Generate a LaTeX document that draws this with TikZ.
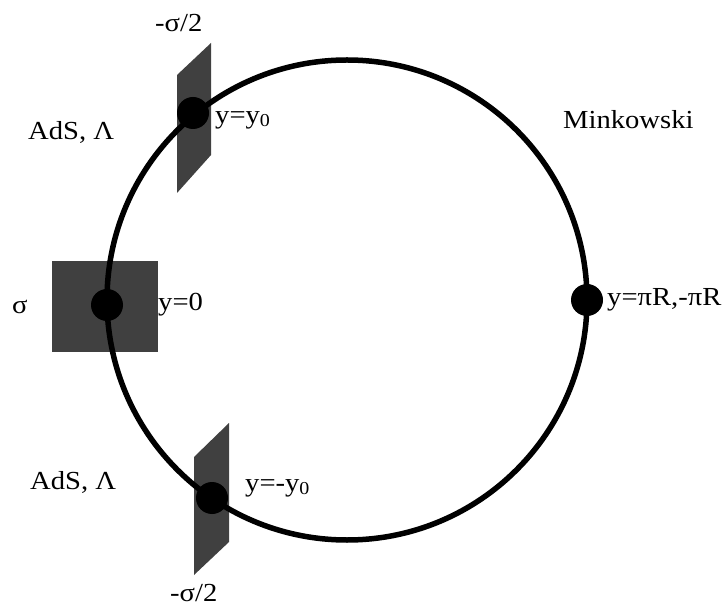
\documentclass[tikz,border=0pt]{standalone}
\usepackage{fontspec}
\setmainfont{Liberation Serif}[FakeStretch=1.1]
\usetikzlibrary{positioning}
\definecolor{braneblock}{RGB}{64,64,64}
\tikzset{
  bulk/.style={line width=5.5pt, black},
  fixpt/.style={circle, fill=black, inner sep=0pt, minimum size=32pt},
  lbl/.style={font=\fontsize{26}{30}\selectfont, inner sep=0pt, anchor=west},
}
\begin{document}
\begin{tikzpicture}[x=1pt,y=-1pt]
	\useasboundingbox (0,0) rectangle (728,609);
	\def\cx{347}
	\def\cy{300}
	\def\rr{240}

	% branes
	\fill[braneblock] (177,75) -- (211,43) -- (211,155) -- (177,193) -- cycle;
	\fill[braneblock] (52,261) rectangle (158,352);
	\fill[braneblock] (194,457) -- (229,423) -- (229,542) -- (194,575) -- cycle;

	% orbifold circle
	\draw[bulk] (\cx,\cy) circle[radius=\rr];

	% fixed points
	\node[fixpt] (ytop) at (193,113) {};
	\node[fixpt] (yzero) at (107,305) {};
	\node[fixpt] (ybot) at (212,498) {};
	\node[fixpt] (ypi) at (587,300) {};

	% positions
	\node[lbl] (lytop) at (215,120) {y=y\textsubscript{0}};
	\node[lbl] (lyzero) at (158,305) {y=0};
	\node[lbl] (lybot) at (245,488) {y=-y\textsubscript{0}};
	\node[lbl] (lypi) at (607,300) {y=πR,-πR};

	% tensions
	\node[lbl] (sigtop) at (155,23) {-σ/2};
	\node[lbl] (sigzero) at (12,307) {σ};
	\node[lbl] (sigbot) at (170,593) {-σ/2};

	% bulk regions
	\node[lbl] (adstop) at (28,132) {AdS, Λ};
	\node[lbl] (adsbot) at (30,482) {AdS, Λ};
	\node[lbl] (mink) at (563,120) {Minkowski};
\end{tikzpicture}
\end{document}
